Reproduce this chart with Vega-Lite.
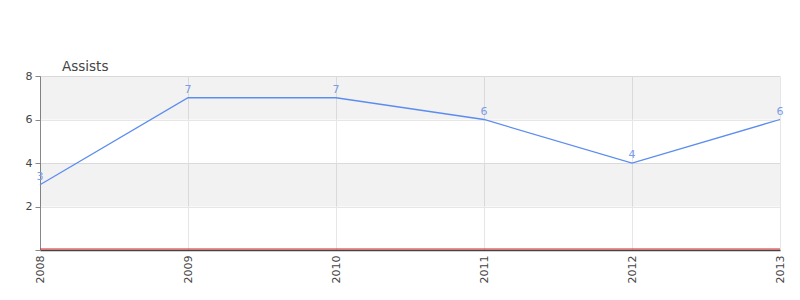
{
  "$schema": "https://vega.github.io/schema/vega-lite/v6.json",
  "width": 740,
  "height": 174,
  "autosize": "none",
  "padding": {"left": 40, "top": 76, "right": 20, "bottom": 50},
  "background": "white",
  "config": {
    "font": "DejaVu Sans",
    "view": {"stroke": null}
  },
  "title": {
    "text": "Assists",
    "anchor": "start",
    "frame": "group",
    "dx": 22,
    "offset": -3,
    "fontSize": 13.5,
    "fontWeight": "normal",
    "color": "#444444",
    "font": "DejaVu Sans"
  },
  "datasets": {
    "points": [
      {"year": "2008", "assists": 3},
      {"year": "2009", "assists": 7},
      {"year": "2010", "assists": 7},
      {"year": "2011", "assists": 6},
      {"year": "2012", "assists": 4},
      {"year": "2013", "assists": 6}
    ],
    "bands": [
      {"from": 2, "to": 4},
      {"from": 6, "to": 8}
    ]
  },
  "layer": [
    {
      "data": {"name": "bands"},
      "mark": {"type": "rect", "color": "#000000", "fillOpacity": 0.05},
      "encoding": {
        "y": {
          "field": "from", "type": "quantitative",
          "scale": {"domain": [0, 8], "nice": false},
          "axis": {
            "title": null,
            "values": [0, 1, 2, 3, 4, 5, 6, 7, 8],
            "labelExpr": "datum.value % 2 === 0 && datum.value > 0 ? datum.label : ''",
            "labelFontSize": 11,
            "labelColor": "#444444",
            "labelPadding": 3,
            "tickSize": 5,
            "tickColor": "#888888",
            "domainColor": "#888888",
            "grid": true,
            "gridColor": "#e6e6e6",
            "gridOpacity": {"condition": {"test": "datum.value % 2 === 1 || datum.value === 0", "value": 0}, "value": 1}
          }
        },
        "y2": {"field": "to"}
      }
    },
    {
      "data": {"name": "points"},
      "mark": {"type": "line", "color": "#5b8def", "strokeWidth": 1.3},
      "encoding": {
        "x": {
          "field": "year", "type": "ordinal",
          "scale": {"type": "point", "padding": 0},
          "axis": {
            "title": null,
            "labelAngle": -90,
            "labelFontSize": 11,
            "labelColor": "#444444",
            "labelPadding": 5,
            "ticks": false,
            "domain": true,
            "domainColor": "#444444",
            "domainWidth": 1.5,
            "grid": true,
            "gridColor": "#e6e6e6"
          }
        },
        "y": {"field": "assists", "type": "quantitative"}
      }
    },
    {
      "data": {"name": "points"},
      "mark": {"type": "text", "color": "#7b9de6", "fontSize": 11, "dy": -3, "baseline": "bottom"},
      "encoding": {
        "x": {"field": "year", "type": "ordinal"},
        "y": {"field": "assists", "type": "quantitative"},
        "text": {"field": "assists", "type": "quantitative"}
      }
    },
    {
      "data": {"values": [{"zero": 0}]},
      "mark": {"type": "rule", "color": "#d62728", "strokeWidth": 1.2, "yOffset": -1},
      "encoding": {
        "y": {"field": "zero", "type": "quantitative"}
      }
    }
  ]
}
